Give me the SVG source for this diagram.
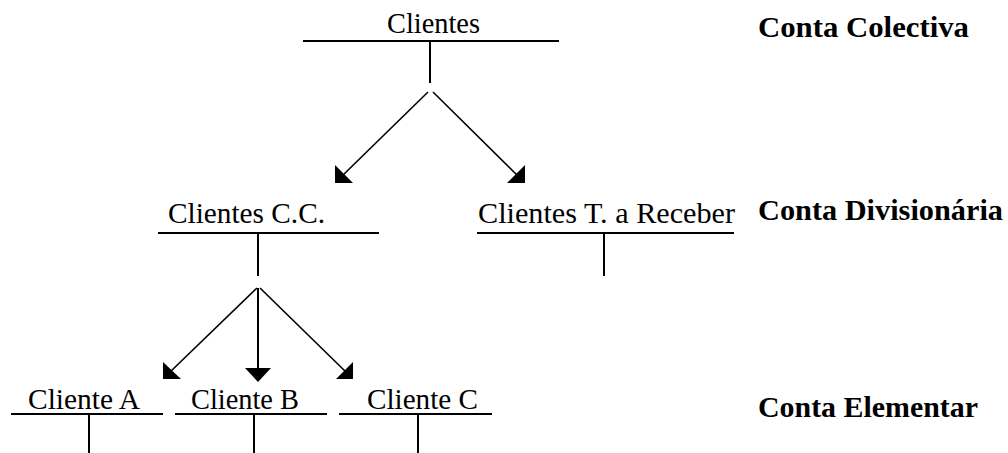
<svg xmlns="http://www.w3.org/2000/svg" width="1008" height="453" viewBox="0 0 1008 453">
<style>
.lbl{font-family:"Liberation Serif","DejaVu Serif","Times New Roman",serif;font-size:29px;fill:#000}
.lvl{font-family:"Liberation Serif","DejaVu Serif","Times New Roman",serif;font-size:29px;font-weight:bold;fill:#000}
.bar{stroke:#000;stroke-width:2;fill:none}
.arr{stroke:#000;stroke-width:1.6;fill:none}
.head{fill:#000;stroke:none}
</style>
<rect width="1008" height="453" fill="#fff"/>
<g id="clientes">
<text class="lbl" x="387" y="33" textLength="93" lengthAdjust="spacingAndGlyphs">Clientes</text>
<line class="bar" x1="303" y1="41" x2="559" y2="41"/>
<line class="bar" x1="430" y1="41" x2="430" y2="83"/>
</g>
<g id="clientes-cc">
<text class="lbl" x="168" y="223" textLength="157" lengthAdjust="spacingAndGlyphs">Clientes C.C.</text>
<line class="bar" x1="158" y1="233" x2="379" y2="233"/>
<line class="bar" x1="258" y1="233" x2="258" y2="276"/>
</g>
<g id="clientes-tr">
<text class="lbl" x="478" y="223" textLength="257" lengthAdjust="spacingAndGlyphs">Clientes T. a Receber</text>
<line class="bar" x1="477" y1="233" x2="734" y2="233"/>
<line class="bar" x1="604" y1="233" x2="604" y2="276"/>
</g>
<g id="cliente-a">
<text class="lbl" x="28" y="409" textLength="112" lengthAdjust="spacingAndGlyphs">Cliente A</text>
<line class="bar" x1="11" y1="414" x2="163" y2="414"/>
<line class="bar" x1="89" y1="414" x2="89" y2="453"/>
</g>
<g id="cliente-b">
<text class="lbl" x="191" y="409" textLength="108" lengthAdjust="spacingAndGlyphs">Cliente B</text>
<line class="bar" x1="175" y1="414" x2="327" y2="414"/>
<line class="bar" x1="254" y1="414" x2="254" y2="453"/>
</g>
<g id="cliente-c">
<text class="lbl" x="367" y="409" textLength="111" lengthAdjust="spacingAndGlyphs">Cliente C</text>
<line class="bar" x1="339" y1="414" x2="492" y2="414"/>
<line class="bar" x1="418" y1="414" x2="418" y2="453"/>
</g>
<g id="levels">
<text class="lvl" x="758" y="37" textLength="211" lengthAdjust="spacingAndGlyphs">Conta Colectiva</text>
<text class="lvl" x="758" y="220" textLength="245" lengthAdjust="spacingAndGlyphs">Conta Divisionária</text>
<text class="lvl" x="758" y="417" textLength="220" lengthAdjust="spacingAndGlyphs">Conta Elementar</text>
</g>
<g id="connectors">
<line class="arr" x1="428" y1="92" x2="341" y2="177"/>
<polygon class="head" points="335,165 335,183 353,183"/>
<line class="arr" x1="433" y1="92" x2="519" y2="177"/>
<polygon class="head" points="525,165 525,183 507,183"/>
<line class="arr" x1="257" y1="288" x2="169" y2="373"/>
<polygon class="head" points="163,362 163,379 181,379"/>
<line class="bar" x1="258" y1="288" x2="258" y2="370"/>
<polygon class="head" points="245,368 271,368 258,382"/>
<line class="arr" x1="260" y1="288" x2="347" y2="373"/>
<polygon class="head" points="353,362 353,379 336,379"/>
</g>
</svg>
